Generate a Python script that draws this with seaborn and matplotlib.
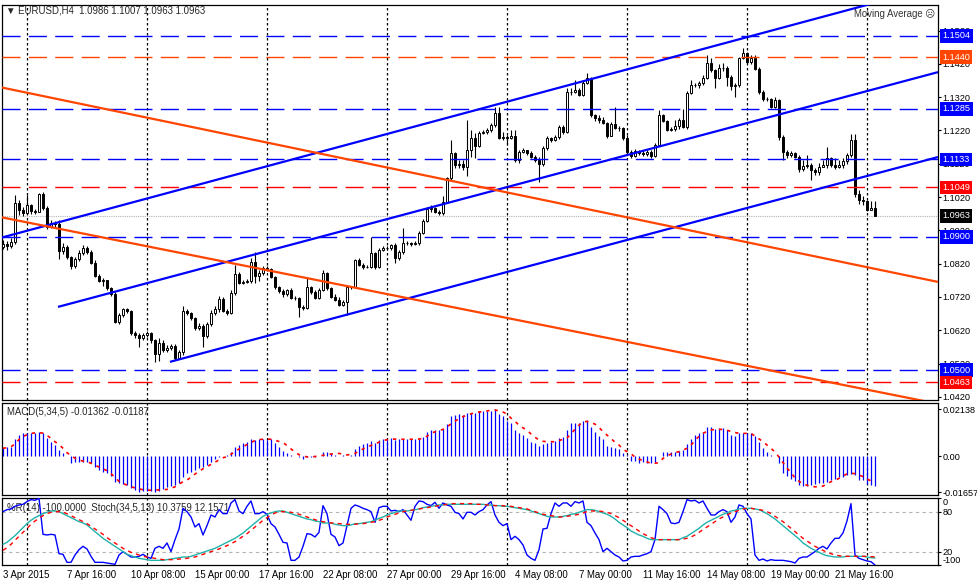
import matplotlib
matplotlib.use('Agg')
import matplotlib.pyplot as plt
import matplotlib.transforms as mtransforms
import numpy as np
import seaborn as sns

# --- EURUSD H4 candles (open of each bar = close of the bar before) ---
first_open = 1.0870
closes = [
    1.0879, 1.0873, 1.0885, 1.1002, 1.0981, 1.0972, 1.0996, 1.0978, 1.0975, 1.1029,
    1.0987, 1.0930, 1.0942, 1.0939, 1.0858, 1.0870, 1.0840, 1.0813, 1.0834, 1.0852,
    1.0867, 1.0855, 1.0822, 1.0783, 1.0768, 1.0771, 1.0747, 1.0729, 1.0645, 1.0666,
    1.0684, 1.0678, 1.0612, 1.0606, 1.0597, 1.0606, 1.0612, 1.0591, 1.0549, 1.0582,
    1.0561, 1.0567, 1.0573, 1.0537, 1.0555, 1.0678, 1.0672, 1.0657, 1.0627, 1.0633,
    1.0603, 1.0639, 1.0672, 1.0684, 1.0714, 1.0678, 1.0672, 1.0732, 1.0789, 1.0762,
    1.0765, 1.0768, 1.0825, 1.0783, 1.0792, 1.0807, 1.0804, 1.0780, 1.0750, 1.0738,
    1.0729, 1.0741, 1.0717, 1.0717, 1.0690, 1.0687, 1.0750, 1.0735, 1.0717, 1.0741,
    1.0792, 1.0747, 1.0720, 1.0711, 1.0696, 1.0705, 1.0750, 1.0750, 1.0831, 1.0816,
    1.0810, 1.0810, 1.0852, 1.0810, 1.0861, 1.0867, 1.0867, 1.0876, 1.0837, 1.0855,
    1.0882, 1.0882, 1.0879, 1.0882, 1.0912, 1.0948, 1.0984, 1.0987, 1.0975, 1.0972,
    1.1005, 1.1077, 1.1152, 1.1116, 1.1119, 1.1110, 1.1161, 1.1197, 1.1173, 1.1212,
    1.1215, 1.1221, 1.1236, 1.1272, 1.1197, 1.1200, 1.1197, 1.1203, 1.1131, 1.1155,
    1.1161, 1.1152, 1.1140, 1.1131, 1.1119, 1.1167, 1.1197, 1.1191, 1.1200, 1.1230,
    1.1215, 1.1335, 1.1335, 1.1341, 1.1326, 1.1362, 1.1377, 1.1266, 1.1257, 1.1251,
    1.1242, 1.1203, 1.1239, 1.1227, 1.1227, 1.1197, 1.1155, 1.1143, 1.1158, 1.1152,
    1.1149, 1.1155, 1.1143, 1.1176, 1.1266, 1.1248, 1.1221, 1.1224, 1.1233, 1.1251,
    1.1230, 1.1332, 1.1356, 1.1356, 1.1362, 1.1377, 1.1422, 1.1401, 1.1377, 1.1407,
    1.1407, 1.1380, 1.1353, 1.1356, 1.1437, 1.1452, 1.1425, 1.1437, 1.1404, 1.1335,
    1.1314, 1.1314, 1.1290, 1.1311, 1.1200, 1.1155, 1.1146, 1.1152, 1.1140, 1.1104,
    1.1113, 1.1116, 1.1101, 1.1095, 1.1110, 1.1116, 1.1137, 1.1116, 1.1110, 1.1116,
    1.1128, 1.1146, 1.1191, 1.1029, 1.1011, 1.1008, 1.0981, 1.0986, 1.0963,
]
highs = [
    1.0891, 1.0888, 1.0897, 1.1026, 1.1011, 1.0990, 1.1026, 1.0999, 1.0984, 1.1032,
    1.1035, 1.0993, 1.0951, 1.0948, 1.0951, 1.0882, 1.0876, 1.0843, 1.0840, 1.0861,
    1.0876, 1.0873, 1.0861, 1.0831, 1.0789, 1.0777, 1.0771, 1.0750, 1.0735, 1.0672,
    1.0687, 1.0687, 1.0681, 1.0618, 1.0612, 1.0612, 1.0618, 1.0615, 1.0594, 1.0597,
    1.0591, 1.0576, 1.0579, 1.0579, 1.0561, 1.0693, 1.0684, 1.0675, 1.0660, 1.0642,
    1.0639, 1.0645, 1.0681, 1.0693, 1.0723, 1.0720, 1.0684, 1.0741, 1.0816, 1.0795,
    1.0771, 1.0774, 1.0837, 1.0855, 1.0801, 1.0813, 1.0813, 1.0807, 1.0783, 1.0753,
    1.0744, 1.0744, 1.0747, 1.0723, 1.0720, 1.0696, 1.0780, 1.0753, 1.0741, 1.0747,
    1.0801, 1.0795, 1.0750, 1.0729, 1.0720, 1.0711, 1.0756, 1.0753, 1.0834, 1.0837,
    1.0822, 1.0816, 1.0900, 1.0855, 1.0867, 1.0873, 1.0873, 1.0879, 1.0882, 1.0861,
    1.0927, 1.0888, 1.0885, 1.0888, 1.0918, 1.0954, 1.0990, 1.0996, 1.0990, 1.0981,
    1.1023, 1.1080, 1.1191, 1.1155, 1.1131, 1.1131, 1.1251, 1.1221, 1.1212, 1.1218,
    1.1221, 1.1227, 1.1242, 1.1290, 1.1290, 1.1215, 1.1206, 1.1221, 1.1221, 1.1161,
    1.1167, 1.1161, 1.1158, 1.1146, 1.1140, 1.1173, 1.1203, 1.1200, 1.1206, 1.1236,
    1.1236, 1.1347, 1.1347, 1.1371, 1.1347, 1.1368, 1.1392, 1.1380, 1.1269, 1.1266,
    1.1260, 1.1245, 1.1245, 1.1290, 1.1233, 1.1230, 1.1206, 1.1161, 1.1164, 1.1161,
    1.1161, 1.1161, 1.1161, 1.1182, 1.1281, 1.1269, 1.1251, 1.1230, 1.1251, 1.1257,
    1.1284, 1.1338, 1.1371, 1.1362, 1.1368, 1.1386, 1.1446, 1.1437, 1.1404, 1.1419,
    1.1422, 1.1413, 1.1386, 1.1362, 1.1440, 1.1468, 1.1455, 1.1446, 1.1446, 1.1410,
    1.1341, 1.1320, 1.1317, 1.1320, 1.1314, 1.1206, 1.1161, 1.1158, 1.1155, 1.1146,
    1.1131, 1.1146, 1.1122, 1.1107, 1.1122, 1.1131, 1.1170, 1.1140, 1.1137, 1.1131,
    1.1137, 1.1152, 1.1209, 1.1209, 1.1041, 1.1023, 1.1011, 1.1008, 1.1007,
]
lows = [
    1.0864, 1.0861, 1.0867, 1.0879, 1.0966, 1.0963, 1.0969, 1.0969, 1.0969, 1.0975,
    1.0981, 1.0924, 1.0927, 1.0930, 1.0834, 1.0849, 1.0834, 1.0804, 1.0807, 1.0828,
    1.0846, 1.0849, 1.0819, 1.0780, 1.0765, 1.0753, 1.0741, 1.0723, 1.0642, 1.0639,
    1.0660, 1.0672, 1.0606, 1.0597, 1.0570, 1.0591, 1.0600, 1.0582, 1.0525, 1.0528,
    1.0555, 1.0555, 1.0561, 1.0531, 1.0534, 1.0546, 1.0666, 1.0651, 1.0621, 1.0621,
    1.0570, 1.0597, 1.0633, 1.0666, 1.0675, 1.0675, 1.0666, 1.0669, 1.0726, 1.0759,
    1.0759, 1.0762, 1.0762, 1.0762, 1.0768, 1.0786, 1.0798, 1.0777, 1.0744, 1.0732,
    1.0720, 1.0723, 1.0714, 1.0711, 1.0660, 1.0681, 1.0684, 1.0729, 1.0714, 1.0714,
    1.0738, 1.0741, 1.0717, 1.0708, 1.0693, 1.0693, 1.0666, 1.0744, 1.0747, 1.0813,
    1.0804, 1.0807, 1.0807, 1.0804, 1.0807, 1.0858, 1.0861, 1.0861, 1.0822, 1.0831,
    1.0849, 1.0876, 1.0873, 1.0876, 1.0876, 1.0909, 1.0945, 1.0975, 1.0972, 1.0966,
    1.0966, 1.1002, 1.1071, 1.1107, 1.1107, 1.1101, 1.1083, 1.1140, 1.1137, 1.1170,
    1.1209, 1.1209, 1.1215, 1.1230, 1.1194, 1.1191, 1.1176, 1.1194, 1.1125, 1.1122,
    1.1152, 1.1146, 1.1137, 1.1125, 1.1065, 1.1113, 1.1161, 1.1185, 1.1188, 1.1194,
    1.1209, 1.1212, 1.1326, 1.1332, 1.1323, 1.1323, 1.1359, 1.1260, 1.1248, 1.1242,
    1.1239, 1.1197, 1.1203, 1.1224, 1.1218, 1.1191, 1.1152, 1.1137, 1.1140, 1.1146,
    1.1143, 1.1143, 1.1137, 1.1140, 1.1173, 1.1245, 1.1218, 1.1218, 1.1218, 1.1224,
    1.1227, 1.1224, 1.1329, 1.1350, 1.1347, 1.1356, 1.1374, 1.1395, 1.1347, 1.1374,
    1.1398, 1.1353, 1.1341, 1.1320, 1.1350, 1.1434, 1.1419, 1.1419, 1.1401, 1.1329,
    1.1308, 1.1308, 1.1287, 1.1287, 1.1191, 1.1131, 1.1137, 1.1140, 1.1137, 1.1095,
    1.1098, 1.1107, 1.1071, 1.1086, 1.1086, 1.1110, 1.1107, 1.1110, 1.1104, 1.1107,
    1.1107, 1.1119, 1.1140, 1.1020, 1.0999, 1.0996, 1.0978, 1.0981, 1.0963,
]

# --- MACD(5,34,5), values in units of 0.0001 ---
macd_main = [
    35, 42, 42, 76, 95, 103, 103, 106, 103, 111,
    106, 80, 65, 50, 27, 12, 0, -30, -26, -26,
    -26, -26, -33, -49, -64, -71, -79, -91, -117, -124,
    -127, -132, -147, -155, -162, -158, -158, -158, -162, -158,
    -152, -143, -137, -132, -124, -94, -79, -71, -64, -56,
    -49, -41, -26, -15, -3, 0, 5, 20, 42, 50,
    58, 65, 76, 73, 76, 76, 73, 76, 58, 42,
    24, 15, 5, 0, -3, -15, -3, -6, -3, 0,
    18, 18, 12, 5, 0, 5, 0, 5, 30, 45,
    53, 58, 70, 61, 73, 76, 79, 83, 73, 76,
    76, 76, 76, 76, 76, 85, 109, 118, 118, 118,
    124, 146, 184, 187, 191, 187, 197, 197, 197, 206,
    206, 206, 206, 212, 191, 182, 161, 149, 118, 103,
    96, 80, 65, 61, 45, 55, 61, 65, 70, 80,
    85, 118, 149, 152, 152, 161, 164, 133, 111, 91,
    76, 45, 42, 35, 30, 15, 3, -21, -21, -30,
    -26, -30, -30, -26, 0, 20, 20, 20, 20, 24,
    27, 53, 76, 96, 103, 111, 130, 130, 121, 126,
    126, 118, 96, 91, 103, 106, 103, 103, 91, 65,
    35, 20, 5, 0, -33, -76, -91, -106, -112, -132,
    -136, -136, -132, -127, -124, -121, -117, -109, -106, -97,
    -94, -86, -82, -86, -109, -109, -128, -132, -136.2,
]
macd_signal = [
    35, 38, 42, 55, 75, 88, 97, 103, 105, 106,
    104, 94, 80, 65, 52, 35, 15, 2, -10, -18,
    -23, -26, -33, -42, -50, -58, -67, -80, -98, -115,
    -126, -132, -140, -145, -150, -153, -155, -156, -155, -154,
    -153, -152, -147, -140, -128, -117, -109, -97, -82, -70,
    -58, -49, -38, -28, -18, -8, -3, 8, 20, 32,
    42, 52, 62, 70, 75, 76, 77, 76, 72, 66,
    61, 48, 32, 18, 6, 0, -4, -5, -2, 0,
    3, 7, 9, 10, 12, 8, 5, 7, 12, 22,
    32, 40, 48, 55, 63, 70, 74, 76, 77, 76,
    76, 76, 76, 76, 77, 80, 90, 103, 110, 116,
    121, 132, 146, 158, 170, 179, 186, 192, 196, 200,
    202, 205, 208, 209, 206, 200, 191, 172, 158, 140,
    128, 118, 100, 85, 73, 67, 65, 65, 65, 70,
    76, 82, 100, 122, 140, 156, 157, 152, 145, 130,
    111, 95, 80, 62, 50, 30, 20, 10, -5, -14,
    -21, -27, -33, -33, -30, -11, 0, 9, 15, 20,
    27, 35, 50, 70, 90, 103, 112, 118, 121, 121,
    121, 118, 111, 107, 103, 103, 103, 103, 90, 78,
    65, 50, 35, 18, -5, -30, -55, -75, -100, -115,
    -127, -133, -138, -140, -140, -137, -127, -117, -110, -102,
    -90, -82, -79, -80, -86, -94, -105, -113, -118.7,
]

# --- %R(14) and Stoch(34,5,13) ---
williams_r = [
    -20, -17, -16, -12, -10, -9, -5, -2, -3, 0,
    -54, -55, -54, -55, -83, -84, -96, -96, -85, -77,
    -72, -76, -87, -96, -96, -96, -97, -98, -99, -85,
    -80, -84, -88, -88, -87, -84, -88, -90, -75, -72,
    -75, -67, -80, -62, -46, -15, -20, -28, -43, -38,
    -55, -41, -25, -28, -17, -23, -23, -7, -2, -19,
    -23, -12, -4, -23, -23, -20, -24, -38, -43, -54,
    -66, -67, -93, -93, -88, -72, -53, -54, -58, -51,
    -11, -23, -54, -58, -71, -67, -41, -15, -10, -12,
    -15, -17, -20, -36, -14, -12, -12, -19, -18, -20,
    -17, -25, -33, -12, -4, -5, -9, -11, -6, -15,
    -7, -10, -12, -21, -23, -31, -21, -21, -25, -20,
    -17, -10, -5, -25, -36, -41, -38, -62, -57, -62,
    -70, -85, -90, -93, -77, -46, -45, -23, -7, -12,
    -7, -7, -12, -5, -7, -4, -36, -41, -52, -62,
    -80, -75, -80, -85, -88, -94, -93, -88, -87, -87,
    -85, -83, -80, -62, -12, -17, -23, -37, -38, -36,
    -20, -2, -4, -3, -7, -4, -15, -25, -25, -20,
    -17, -20, -36, -28, -10, -12, -23, -31, -85, -93,
    -91, -94, -92, -93, -93, -93, -94, -95, -97, -90,
    -88, -88, -84, -80, -75, -72, -76, -67, -60, -60,
    -52, -34, -8, -85, -90, -92, -94, -95, -100,
]
stoch_main = [
    31, 34, 39, 44, 50, 56, 62, 67, 71, 74,
    77, 79, 81, 81, 80, 77, 74, 71, 68, 65,
    63, 60, 55, 50, 45, 40, 36, 32, 28, 24,
    20, 16, 14, 12, 10, 9, 8, 7, 7, 7,
    7, 8, 9, 10, 11, 12, 12, 13, 15, 17,
    19, 21, 23, 25, 28, 31, 34, 37, 40, 44,
    48, 53, 58, 63, 68, 73, 76, 78, 80, 81,
    81, 79, 77, 75, 73, 71, 69, 68, 66, 65,
    63, 63, 63, 61, 60, 59, 59, 60, 62, 62,
    63, 64, 65, 67, 70, 72, 75, 77, 79, 81,
    81, 81, 82, 83, 84, 86, 87, 88, 89, 90,
    90, 91, 91, 91, 91, 91, 91, 91, 91, 91,
    91, 90, 90, 89, 89, 88, 88, 87, 86, 85,
    84, 83, 81, 79, 77, 75, 73, 72, 72, 72,
    73, 74, 76, 77, 79, 81, 83, 83, 82, 80,
    78, 76, 73, 69, 64, 60, 56, 51, 48, 45,
    43, 40, 38, 38, 38, 38, 38, 38, 38, 38,
    41, 43, 47, 51, 55, 60, 64, 67, 70, 73,
    76, 78, 81, 82, 84, 85, 85, 85, 84, 83,
    80, 77, 73, 69, 64, 59, 54, 49, 44, 39,
    33, 29, 25, 22, 19, 16, 14, 13, 12, 12,
    12, 13, 13, 13, 13, 13, 12, 11, 10.38,
]
stoch_signal = [
    22, 26, 31, 37, 43, 49, 55, 61, 66, 70,
    74, 77, 79, 80, 80, 79, 77, 74, 71, 68,
    65, 62, 58, 54, 50, 46, 41, 37, 33, 29,
    25, 22, 19, 17, 15, 13, 12, 11, 10, 9,
    8, 8, 8, 8, 9, 9, 10, 11, 12, 14,
    16, 18, 20, 22, 24, 27, 29, 32, 35, 39,
    43, 47, 52, 57, 62, 67, 71, 75, 78, 80,
    80, 80, 79, 78, 76, 74, 72, 70, 68, 66,
    65, 64, 63, 63, 62, 62, 61, 61, 61, 62,
    62, 63, 64, 65, 67, 69, 72, 74, 76, 78,
    80, 81, 82, 83, 84, 85, 86, 87, 88, 89,
    90, 91, 92, 92, 92, 92, 92, 92, 91, 91,
    91, 90, 90, 89, 89, 89, 88, 88, 87, 86,
    85, 84, 82, 80, 78, 76, 75, 74, 73, 72,
    72, 73, 74, 75, 76, 78, 80, 81, 81, 81,
    80, 79, 77, 74, 71, 67, 63, 59, 55, 51,
    47, 44, 41, 39, 38, 38, 38, 38, 38, 38,
    39, 40, 42, 45, 49, 53, 57, 61, 65, 69,
    72, 75, 78, 80, 82, 84, 85, 85, 84, 83,
    82, 80, 77, 73, 69, 65, 60, 55, 50, 45,
    40, 36, 32, 28, 25, 22, 19, 17, 15, 14,
    13, 13, 13, 13, 13, 13, 13, 12.5, 12.16,
]

# --- axis labels ---
price_ticks = [1.0420, 1.0520, 1.0620, 1.0720, 1.0820, 1.0920,
               1.1020, 1.1120, 1.1220, 1.1320, 1.1420, 1.1520]
time_tick_bars = [0, 16, 32, 48, 64, 80, 96, 112, 128, 144, 160, 176, 192, 208]
time_tick_labels = ['3 Apr 2015', '7 Apr 16:00', '10 Apr 08:00', '15 Apr 00:00',
                    '17 Apr 16:00', '22 Apr 08:00', '27 Apr 00:00', '29 Apr 16:00',
                    '4 May 08:00', '7 May 00:00', '11 May 16:00', '14 May 08:00',
                    '19 May 00:00', '21 May 16:00']
week_start_bars = [6, 36, 66, 96, 126, 156, 186, 216]

# --- drawn objects: horizontal levels and trend lines (bar, price) ---
level_prices = [1.1504, 1.1440, 1.1285, 1.1133, 1.1049, 1.0900, 1.0500, 1.0463]
level_colors = ['#0000FF', '#FF4500', '#0000FF', '#0000FF', '#FF0000',
                '#0000FF', '#0000FF', '#FF0000']
last_price = 1.0963
blue_lines = [((-1, 1.0896), (234, 1.1655)),
              ((13.75, 1.0690), (233.75, 1.1395)),
              ((41.75, 1.0525), (233.75, 1.1140))]
red_lines = [((-0.75, 1.1350), (233.75, 1.0765)),
             ((-0.75, 1.0960), (233.75, 1.0399))]

sns.set_style('white')
plt.rcParams['font.family'] = ['Liberation Sans', 'DejaVu Sans']
plt.rcParams['axes.linewidth'] = 0.9
plt.rcParams['axes.edgecolor'] = 'black'
FS = 6.9       # texts and time labels
FS_NUM = 6.6   # numbers on the right scales

W, H = 977, 581
fig = plt.figure(figsize=(W / 100, H / 100), dpi=100)
fig.patch.set_facecolor('white')
left, width = 2 / W, 936 / W
ax = fig.add_axes([left, 1 - 400 / H, width, 395 / H])
ax_macd = fig.add_axes([left, 1 - 495 / H, width, 92 / H])
ax_osc = fig.add_axes([left, 1 - 565 / H, width, 66.7 / H])

bars = np.arange(len(closes))
opens = np.array([first_open] + closes[:-1])
c = np.array(closes)
bull = c >= opens
body_low = np.minimum(opens, c)
body_h = np.maximum(np.abs(c - opens), 0.00004)

# candles
ax.vlines(bars, lows, highs, color='black', lw=0.8, zorder=3)
ax.bar(bars, body_h, bottom=body_low, width=0.62,
       color=np.where(bull, 'white', 'black'), edgecolor='black',
       linewidth=0.7, zorder=4)

for p, col in zip(level_prices, level_colors):
    ax.axhline(p, color=col, lw=1.0, linestyle=(0, (13, 6)), zorder=5)
ax.axhline(last_price, color='#B4B4B4', lw=0.8, linestyle=(0, (1, 1)), zorder=2)

for (x0, y0), (x1, y1) in blue_lines:
    ax.plot([x0, x1], [y0, y1], color='#0000FF', lw=1.6, zorder=6,
            solid_capstyle='butt')
for (x0, y0), (x1, y1) in red_lines:
    ax.plot([x0, x1], [y0, y1], color='#FF4500', lw=1.6, zorder=6,
            solid_capstyle='butt')

for a in (ax, ax_macd, ax_osc):
    for b in week_start_bars:
        a.axvline(b, color='black', lw=0.9, linestyle=(0, (2, 2)), zorder=1)
    a.set_xlim(-0.25, 233.75)
    for s in a.spines.values():
        s.set_color('black')
        s.set_linewidth(0.9)
    a.yaxis.tick_right()
    a.tick_params(axis='y', direction='out', length=2.2, width=0.8, pad=1.0,
                  labelsize=FS_NUM, colors='black')

ax.set_ylim(1.04104, 1.15966)
ax.set_yticks(price_ticks)
ax.set_yticklabels([f'{p:.4f}' for p in price_ticks])

# price labels on the right scale
trans = mtransforms.blended_transform_factory(ax.transAxes, ax.transData)
for p, col in zip(level_prices + [last_price], level_colors + ['black']):
    ax.text(1.0045, p, f'{p:.4f}', transform=trans, color='white', fontsize=FS_NUM,
            va='center', ha='left', clip_on=False, zorder=20,
            bbox=dict(boxstyle='square,pad=0.25', fc=col, ec='none'))

ax.text(0.004, 0.986, '▼ EURUSD,H4  1.0986 1.1007 1.0963 1.0963',
        transform=ax.transAxes, va='center', ha='left', fontsize=FS, zorder=1)
ax.text(0.997, 0.978, 'Moving Average ☹', transform=ax.transAxes,
        va='center', ha='right', fontsize=FS, color='#333333', zorder=1)

# MACD
ax_macd.vlines(bars, 0, np.array(macd_main) * 1e-4, color='#0000FF', lw=0.9, zorder=3)
sns.lineplot(x=bars, y=np.array(macd_signal) * 1e-4, ax=ax_macd, color='#FF0000',
             linewidth=1.2, linestyle=(0, (2, 3)), zorder=4)
ax_macd.set_ylim(-0.01774, 0.02411)
ax_macd.set_yticks([-0.01657, 0.0, 0.02138])
ax_macd.set_yticklabels(['-0.01657', '0.00', '0.02138'])
ax_macd.text(0.005, 0.9, 'MACD(5,34,5) -0.01362 -0.01187', transform=ax_macd.transAxes,
             va='center', ha='left', fontsize=FS, zorder=1)

# %R + Stochastic (shared 0..100 scale, %R shifted by +100)
for lv in (20, 80):
    ax_osc.axhline(lv, color='#B4B4B4', lw=0.8, linestyle=(0, (3, 3)), zorder=1)
sns.lineplot(x=bars, y=np.array(williams_r) + 100, ax=ax_osc, color='#0000FF',
             linewidth=1.0, zorder=3)
sns.lineplot(x=bars, y=stoch_main, ax=ax_osc, color='#20B2AA', linewidth=1.0, zorder=4)
sns.lineplot(x=bars, y=stoch_signal, ax=ax_osc, color='#FF0000', linewidth=1.0,
             linestyle=(0, (3, 3)), zorder=5)
ax_osc.set_ylim(0, 100)
ax_osc.set_yticks([0, 20, 80, 100])
ax_osc.set_yticklabels(['-100', '20', '80', '0'])
osc_labels = ax_osc.get_yticklabels()
osc_labels[0].set_va('bottom')
osc_labels[-1].set_va('top')
ax_osc.text(0.005, 0.855, '%R(14) -100.0000  Stoch(34,5,13) 10.3759 12.1571',
            transform=ax_osc.transAxes, va='center', ha='left', fontsize=FS, zorder=1)

for a in (ax, ax_macd):
    a.set_xticks([])
    a.set_xlabel('')
    a.set_ylabel('')
ax_osc.set_ylabel('')
ax_osc.set_xticks(time_tick_bars)
ax_osc.set_xticklabels(time_tick_labels)
ax_osc.tick_params(axis='x', direction='out', length=2.5, width=0.8, pad=1.0,
                   labelsize=FS, colors='black')
for lbl in ax_osc.get_xticklabels():
    lbl.set_ha('left')

fig.savefig('out.png', dpi=100, facecolor='white')
